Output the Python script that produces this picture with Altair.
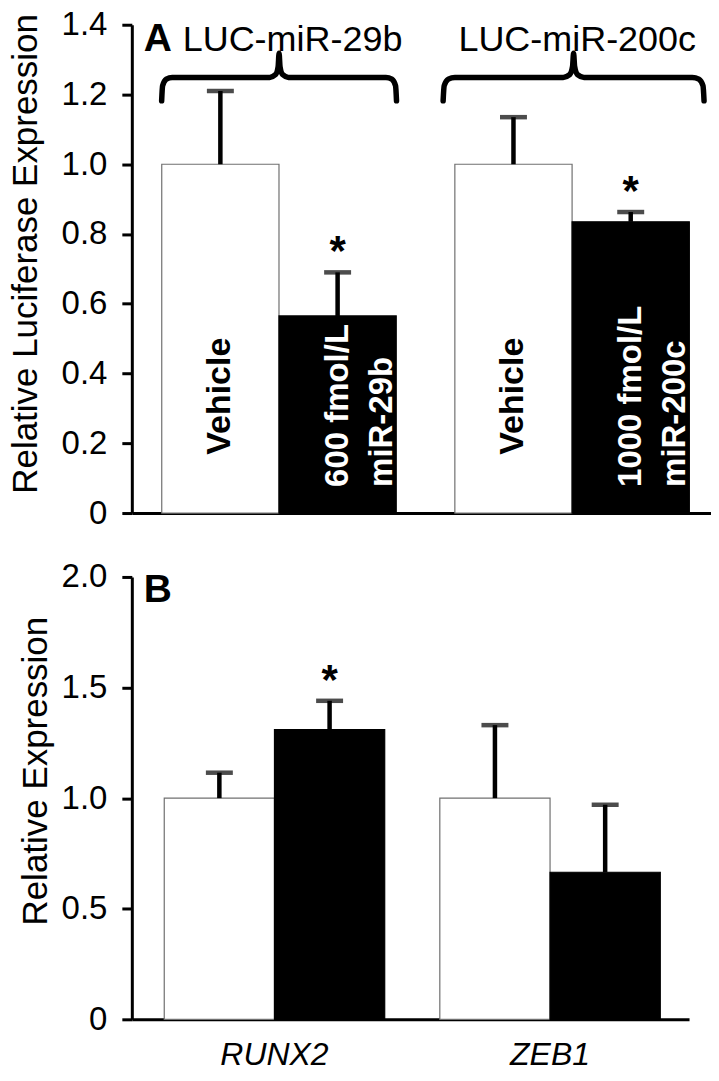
import altair as alt
import pandas as pd

FONT = "Liberation Sans"

# ---------------- Panel A data ----------------
A_GROUPS = ["LUC-miR-29b", "LUC-miR-200c"]
A_GROUP = ["LUC-miR-29b", "LUC-miR-29b", "LUC-miR-200c", "LUC-miR-200c"]
A_COND = ["Vehicle", "miRNA", "Vehicle", "miRNA"]
A_MEAN = [1.00, 0.565, 1.00, 0.835]
A_ERR = [1.21, 0.69, 1.135, 0.863]
A_SIG = [False, True, False, True]
A_LABEL = ["Vehicle", "600 fmol/L\nmiR-29b", "Vehicle", "1000 fmol/L\nmiR-200c"]
A_TICKS = [0, 0.2, 0.4, 0.6, 0.8, 1.0, 1.2, 1.4]

# ---------------- Panel B data ----------------
B_GENES = ["RUNX2", "ZEB1"]
B_GENE = ["RUNX2", "RUNX2", "ZEB1", "ZEB1"]
B_COND = ["Vehicle", "miRNA", "Vehicle", "miRNA"]
B_MEAN = [1.00, 1.31, 1.00, 0.665]
B_ERR = [1.115, 1.44, 1.33, 0.97]
B_SIG = [False, True, False, False]
B_TICKS = [0, 0.5, 1.0, 1.5, 2.0]

CONDS = ["Vehicle", "miRNA"]

df_a = pd.DataFrame({"group": A_GROUP, "cond": A_COND, "mean": A_MEAN,
                     "err": A_ERR, "sig": A_SIG, "label": A_LABEL})
df_b = pd.DataFrame({"group": B_GENE, "cond": B_COND, "mean": B_MEAN,
                     "err": B_ERR, "sig": B_SIG})

# braces (annotation) drawn over each group of panel A (annotation x units 0..2)
BRACE_SPANS = [(0.103, 0.914), (1.075, 1.976)]
BRACE_SHAPE = [(0.0, 1.182), (0.004, 1.225), (0.02, 1.244), (0.045, 1.249),
               (0.46, 1.249), (0.485, 1.257), (0.496, 1.28), (0.5, 1.318),
               (0.504, 1.28), (0.515, 1.257), (0.54, 1.249), (0.955, 1.249),
               (0.98, 1.244), (0.996, 1.225), (1.0, 1.182)]
brace_rows = []
for i, (x0, x1) in enumerate(BRACE_SPANS):
    for f, yv in BRACE_SHAPE:
        brace_rows.append({"brace": i, "bx": x0 + f * (x1 - x0), "by": yv})
df_brace = pd.DataFrame(brace_rows)

df_titles = pd.DataFrame({"t": A_GROUPS, "tx": [0.555, 1.538]})


def label_expr():
    return "datum.value == 0 ? '0' : format(datum.value, '.1f')"


def make_panel(df, groups, domain, ticks, title, xlabels, show_labels, pad,
               width, height, letter, letter_x, letter_y, p_outer, align,
               title_y, title_size):
    yscale = alt.Scale(domain=domain, nice=False, zero=True)
    yax = alt.Axis(values=ticks, title=title, labelExpr=label_expr(),
                   titlePadding=pad, titleY=title_y, titleFontSize=title_size)

    def Y(field):
        return alt.Y(field, type="quantitative", scale=yscale, axis=yax, title=title)

    if xlabels:
        xax = alt.Axis(title=None, labels=True, ticks=False, labelFontStyle="italic",
                       labelPadding=20, labelAngle=0, labelFontSize=32)
    else:
        xax = alt.Axis(title=None, labels=False, ticks=False)
    xs = alt.Scale(paddingInner=0.2, paddingOuter=p_outer, align=align)
    X = alt.X("group:N", sort=groups, scale=xs, axis=xax)
    Xn = alt.X("group:N", sort=groups, scale=xs)
    XO = alt.XOffset("cond:N", sort=CONDS,
                     scale=alt.Scale(paddingInner=0, paddingOuter=0))

    base = alt.Chart(df)
    bars = base.mark_bar(strokeWidth=1.2).encode(
        x=X, xOffset=XO, y=Y("mean"),
        fill=alt.Fill("cond:N", scale=alt.Scale(domain=CONDS, range=["white", "black"]), legend=None),
        stroke=alt.Stroke("cond:N", scale=alt.Scale(domain=CONDS, range=["#707070", "black"]), legend=None),
    )
    stem = base.mark_rule(strokeWidth=4.5, color="black").encode(
        x=Xn, xOffset=XO, y=Y("mean"), y2="err:Q")
    cap = base.mark_tick(thickness=4.5, size=27, color="black").encode(
        x=Xn, xOffset=XO, y=Y("err"))
    star = base.transform_filter("datum.sig").mark_text(
        text="*", fontSize=42, fontWeight="bold", baseline="alphabetic",
        dy=-7, font=FONT, color="black").encode(x=Xn, xOffset=XO, y=Y("err"))
    layers = [bars, stem, cap, star]

    if show_labels:
        veh = base.transform_filter("datum.cond == 'Vehicle'").mark_text(
            angle=270, align="center", baseline="middle", fontSize=34,
            fontWeight="bold", font=FONT, color="black").encode(
            x=Xn, xOffset=XO, y=alt.datum(0.335, type="quantitative", scale=yscale), text="label:N")
        mir = base.transform_filter("datum.cond == 'miRNA'").mark_text(
            angle=270, align="left", baseline="middle", fontSize=33,
            fontWeight="bold", font=FONT, color="white", lineBreak="\n",
            lineHeight=44).encode(
            x=Xn, xOffset=XO, y=alt.datum(0.075, type="quantitative", scale=yscale), text="label:N")
        layers += [veh, mir]

    main = alt.layer(*layers)

    qx = alt.Scale(domain=[0, 2], nice=False, zero=False)
    letter_layer = alt.Chart(pd.DataFrame({"l": [letter], "lx": [letter_x]})).mark_text(
        align="left", baseline="middle", fontSize=39, fontWeight="bold",
        font=FONT, color="black").encode(
        x=alt.X("lx:Q", scale=qx, axis=None),
        y=alt.datum(letter_y, type="quantitative", scale=yscale),
        text="l:N")
    ann = [letter_layer]
    if show_labels:
        braces = alt.Chart(df_brace).mark_line(
            strokeWidth=5.5, color="black", interpolate="monotone",
            strokeCap="round", strokeJoin="round").encode(
            x=alt.X("bx:Q", scale=qx, axis=None),
            y=Y("by"), detail="brace:N")
        titles = alt.Chart(df_titles).mark_text(
            align="center", baseline="middle", fontSize=36, font=FONT,
            color="black").encode(
            x=alt.X("tx:Q", scale=qx, axis=None),
            y=alt.datum(1.356, type="quantitative", scale=yscale),
            text="t:N")
        ann += [braces, titles]
    annl = alt.layer(*ann)

    return alt.layer(main, annl).resolve_scale(x="independent").properties(
        width=width, height=height)


panel_a = make_panel(df_a, A_GROUPS, [0, 1.4], A_TICKS,
                     "Relative Luciferase Expression", False, True, 18,
                     580, 489, "A", 0.041, 1.36, 0.088, 0.58, 229, 35)
panel_b = make_panel(df_b, B_GENES, [0, 2.0], B_TICKS,
                     "Relative Expression", True, False, 8,
                     558, 443, "B", 0.043, 1.943, 0.111, 0.53, 194, 35)

chart = alt.vconcat(panel_a, panel_b, spacing=31, padding=0).resolve_scale(
    xOffset="independent", x="independent"
).configure(
    font=FONT
).configure_view(stroke=None).configure_axis(
    labelFont=FONT, titleFont=FONT, labelFontSize=33, titleFontSize=35,
    labelColor="black", titleColor="black", titleFontWeight="normal",
    domainColor="black", tickColor="black", domainWidth=3, tickWidth=3,
    tickSize=10, grid=False, labelPadding=15,
)

chart.save("out.html", embed_options={"renderer": "svg", "actions": False})
